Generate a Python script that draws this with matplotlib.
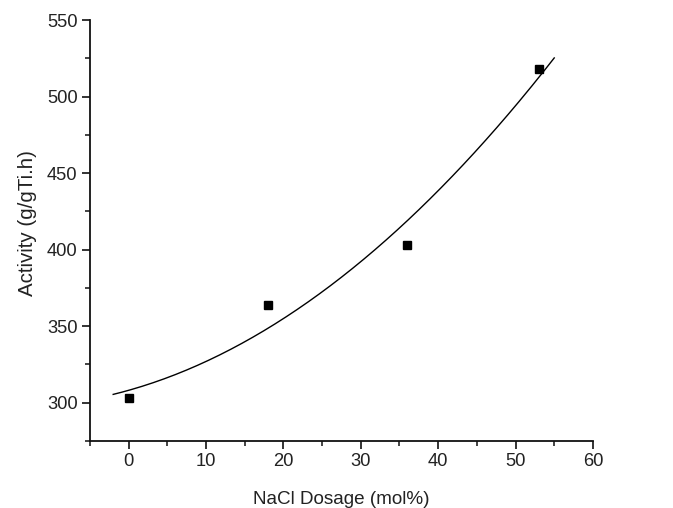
import numpy as np
import matplotlib
matplotlib.use("Agg")
import matplotlib.pyplot as plt
from matplotlib.ticker import MultipleLocator

nacl = [0, 18, 36, 53]
activity = [303, 364, 403, 518]
fit_range = [-2, 55]

plt.rcParams['font.family'] = ['Liberation Sans', 'DejaVu Sans']
text_color = '#222222'

fig = plt.figure(figsize=(6.73, 5.08), dpi=100)
ax = fig.add_axes([0.1337, 0.132, 0.881 - 0.1337, 0.9606 - 0.132])

coef = np.polyfit(nacl, activity, 2)
xf = np.linspace(fit_range[0], fit_range[1], 200)
ax.plot(xf, np.polyval(coef, xf), color='black', lw=1.0)
ax.plot(nacl, activity, 's', color='black', markersize=5.5, linestyle='none')

ax.set_xlim(-5, 60)
ax.set_ylim(275, 550)
ax.xaxis.set_major_locator(MultipleLocator(10))
ax.xaxis.set_minor_locator(MultipleLocator(5))
ax.yaxis.set_major_locator(MultipleLocator(50))
ax.yaxis.set_minor_locator(MultipleLocator(25))

for s in ['top', 'right']:
    ax.spines[s].set_visible(False)
for s in ['left', 'bottom']:
    ax.spines[s].set_linewidth(1.3)
    ax.spines[s].set_color('#111111')

ax.tick_params(which='major', direction='out', length=6, width=1.2, labelsize=13.2,
               colors='#111111', labelcolor=text_color, pad=3)
ax.tick_params(which='minor', direction='out', length=3.5, width=1.1, colors='#111111')

ax.set_xlabel('NaCl Dosage (mol%)', fontsize=13.6, color=text_color, labelpad=15)
ax.set_ylabel('Activity (g/gTi.h)', fontsize=14.8, color=text_color)
ax.yaxis.set_label_coords(-0.106, 0.518)

fig.savefig('out.png', dpi=100)
